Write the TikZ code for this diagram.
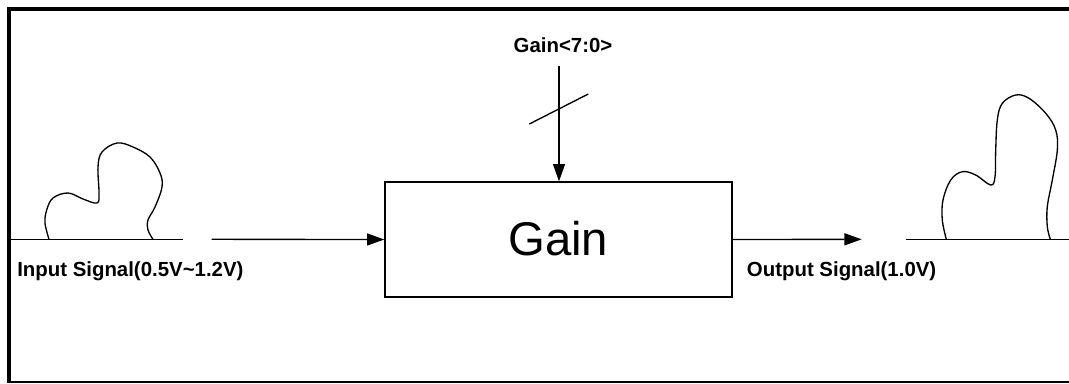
\documentclass[tikz,border=0pt]{standalone}
\usepackage{fontspec}
\setmainfont{Liberation Sans}
\usetikzlibrary{arrows.meta}
\begin{document}
\begin{tikzpicture}[x=0.75pt,y=-0.75pt,
  wire/.style={line width=1pt},
  sig/.style={wire,-{Triangle[length=13pt,width=9pt]}},
  lbl/.style={inner sep=0pt,font=\bfseries\fontsize{15.3}{18}\selectfont},
  blockbox/.style={draw,line width=1pt,minimum width=260.25pt,minimum height=86.25pt,inner sep=0pt,font=\fontsize{35}{40}\selectfont}]
\useasboundingbox (0,0) rectangle (1069,383);
% frame
\draw[line width=3pt] (9,383) -- (9,8.7) -- (1069,8.7);
\draw[line width=1pt] (9,382) -- (1069,382);
% block
\node[blockbox] (gain) at (558.5,239.5) {};
\node[inner sep=0pt,anchor=base,font=\fontsize{35.5}{40}\selectfont] (gaintxt) at (558.3,255) {Gain};
% input side
\coordinate (inL) at (10.5,239.3);
\coordinate (inG1) at (183,239.3);
\coordinate (inG2) at (211.7,239.3);
\draw[wire] (inL) -- (inG1);
\draw[sig] (inG2) -- (gain.west);
\draw[wire] plot[smooth,tension=0.6] coordinates {(49,239.3) (45,223) (46.7,210) (53,198) (68,193) (83,199) (97,203) (99,193) (98,167) (102,152) (117,143) (133,147) (150,157) (160,173) (162,187) (155,207) (148,220) (148,230) (153,239.3)};
\node[lbl,anchor=base west] (inlbl) at (17,276) {Input Signal(0.5V\textasciitilde 1.2V)};
% output side
\coordinate (outA) at (861.7,239.3);
\coordinate (outG2) at (905.7,239.3);
\coordinate (outR) at (1069,239.3);
\draw[sig] (gain.east) -- (outA);
\draw[wire] (outG2) -- (outR);
\draw[wire] plot[smooth,tension=0.6] coordinates {(946.3,239.3) (942.3,220) (943,200) (950.7,180) (962.3,171.7) (975.7,175) (990.7,185) (995,176.7) (995.7,150) (997.3,120) (1002.3,103.3) (1015.7,95) (1029,98.3) (1045.7,113.3) (1055.7,130) (1057.3,150) (1052.3,180) (1047.3,206.7) (1047.3,226.7) (1050.3,239.3)};
\node[lbl,anchor=base west] (outlbl) at (746.7,276) {Output Signal(1.0V)};
% gain control
\node[lbl,anchor=base] (ctl) at (563,52.3) {Gain<7:0>};
\coordinate (ctlTop) at (559,65.7);
\draw[sig] (ctlTop) -- (gain.north -| ctlTop);
\coordinate (sl1) at (529.3,124);
\coordinate (sl2) at (588.3,94);
\draw[wire] (sl1) -- (sl2);
\end{tikzpicture}
\end{document}
